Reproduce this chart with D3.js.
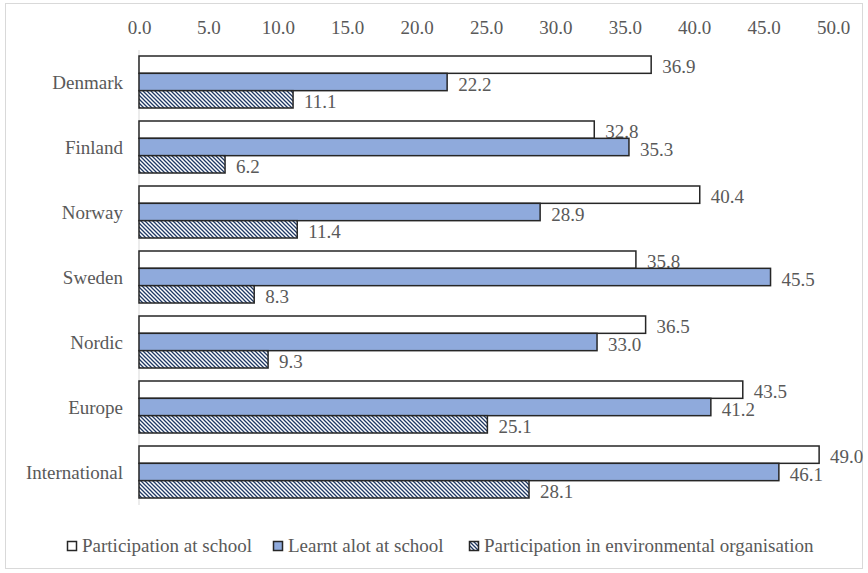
<!DOCTYPE html>
<html><head><meta charset="utf-8">
<script src="https://cdn.jsdelivr.net/npm/d3@7"></script>
<style>body{margin:0;background:#fff}svg{display:block}</style>
</head><body><svg id="c" width="868" height="573"></svg>
<script>
const categories = ["Denmark","Finland","Norway","Sweden","Nordic","Europe","International"];
const seriesNames = ["Participation at school","Learnt alot at school","Participation in environmental organisation"];
const participation = [36.9,32.8,40.4,35.8,36.5,43.5,49.0];
const learnt = [22.2,35.3,28.9,45.5,33.0,41.2,46.1];
const envOrg = [11.1,6.2,11.4,8.3,9.3,25.1,28.1];
const tickValues = [0,5,10,15,20,25,30,35,40,45,50];

const FONT = "'Liberation Serif'";
const TXT = "#595959";
const svg = d3.select("#c");
const defs = svg.append("defs");
const pat = defs.append("pattern").attr("id","hatch").attr("patternUnits","userSpaceOnUse")
  .attr("width",4).attr("height",4);
pat.append("rect").attr("width",4).attr("height",4).attr("fill","#fff");
pat.append("path").attr("d","M-1,-1 L5,5 M-1,3 L1,5 M3,-1 L5,1").attr("stroke","#1f3864").attr("stroke-width",1.3);

svg.append("rect").attr("x",5.5).attr("y",3.5).attr("width",857).attr("height",565)
  .attr("fill","none").attr("stroke","#d9d9d9");

const x = d3.scaleLinear().domain([0,50]).range([139,833]);
const y = d3.scaleBand().domain(categories).range([49.5,504.5]).paddingInner(0.2).paddingOuter(0.1);
const sub = d3.scaleBand().domain([0,1,2]).range([0,y.bandwidth()]);

const fills = ["#ffffff","#8faadc","url(#hatch)"];
const data = [participation, learnt, envOrg];

// axis
const axis = d3.axisTop(x).tickValues(tickValues).tickFormat(d3.format(".1f")).tickSize(0).tickPadding(0);
const ag = svg.append("g").attr("transform","translate(0,34)").call(axis);
ag.attr("font-family", null).attr("font-size", null);
ag.select(".domain").remove();
ag.selectAll("text").attr("font-size",19).attr("fill",TXT).attr("dy","0").style("font-family",FONT).style("font-size","19px");

// vertical axis line
svg.append("line").attr("x1",139).attr("x2",139).attr("y1",50).attr("y2",505).attr("stroke","#d9d9d9").attr("stroke-width",1);

// category labels
svg.append("g").selectAll("text").data(categories).join("text")
  .attr("x",123).attr("y",d=>y(d)+y.bandwidth()/2+7).attr("text-anchor","end")
  .attr("fill",TXT).style("font-family",FONT).style("font-size","19px").text(d=>d);

data.forEach((arr,si)=>{
  const g = svg.append("g");
  g.selectAll("rect").data(arr).join("rect")
    .attr("x",x(0)).attr("y",(d,i)=>y(categories[i])+sub(si))
    .attr("width",d=>x(d)-x(0)).attr("height",sub.bandwidth())
    .attr("fill",fills[si]).attr("stroke","#262626").attr("stroke-width",1.5);
  g.selectAll("text").data(arr).join("text")
    .attr("x",d=>x(d)+11).attr("y",(d,i)=>y(categories[i])+sub(si)+sub.bandwidth()/2+8.5)
    .attr("fill",TXT).style("font-family",FONT).style("font-size","19px")
    .text(d=>d.toFixed(1));
});

// legend
const legX = [67,273,469];
const lg = svg.append("g");
seriesNames.forEach((n,i)=>{
  lg.append("rect").attr("x",legX[i]+0.5).attr("y",541.5).attr("width",9).attr("height",9)
    .attr("fill",fills[i]).attr("stroke","#262626").attr("stroke-width",1.5);
  lg.append("text").attr("x",legX[i]+15).attr("y",552)
    .attr("fill",TXT).style("font-family",FONT).style("font-size","19px").text(n);
});
</script></body></html>
